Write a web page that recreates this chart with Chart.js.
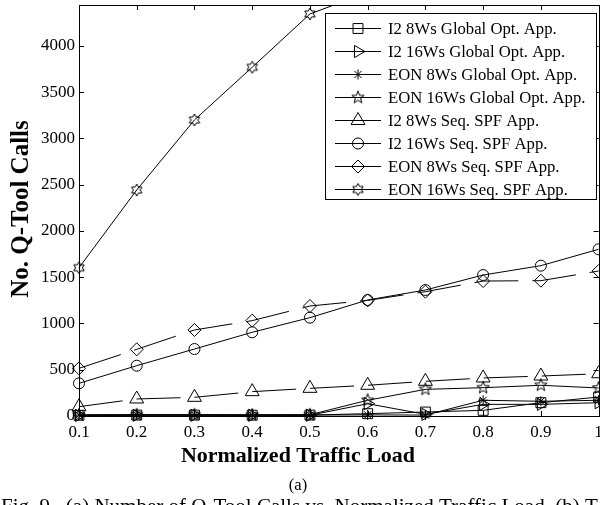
<!DOCTYPE html>
<html><head><meta charset="utf-8">
<script src="https://cdn.jsdelivr.net/npm/chart.js@4/dist/chart.umd.min.js"></script>
<style>
html,body{margin:0;padding:0;background:#fff;overflow:hidden;width:600px;height:505px}
#wrap{position:absolute;left:0;top:0;width:620px;height:505px}
canvas{display:block}
</style></head>
<body><div id="wrap"><canvas id="c" width="620" height="505"></canvas></div>
<script>
// ---- data ----
const loads = [0.1, 0.2, 0.3, 0.4, 0.5, 0.6, 0.7, 0.8, 0.9, 1.0];
const xTickValues = [0.1, 0.2, 0.3, 0.4, 0.5, 0.6, 0.7, 0.8, 0.9, 1.0];
const yTickValues = [0, 500, 1000, 1500, 2000, 2500, 3000, 3500, 4000];
const seriesNames = [
  "I2 8Ws Global Opt. App.",
  "I2 16Ws Global Opt. App.",
  "EON 8Ws Global Opt. App.",
  "EON 16Ws Global Opt. App.",
  "I2 8Ws Seq. SPF App.",
  "I2 16Ws Seq. SPF App.",
  "EON 8Ws Seq. SPF App.",
  "EON 16Ws Seq. SPF App."
];
const i2_8_global   = [8, 10, 10, 9, 10, 25, 43, 61, 144, 205];
const i2_16_global  = [6, 8, 8, 8, 8, 133, 18, 126, 126, 144];
const eon_8_global  = [10, 12, 12, 10, 10, 12, 10, 170, 159, 170];
const eon_16_global = [12, 14, 14, 12, 14, 170, 288, 306, 332, 303];
const i2_8_seq      = [101, 184, 202, 263, 299, 332, 375, 411, 432, 457];
const i2_16_seq     = [353, 544, 724, 905, 1063, 1254, 1362, 1524, 1625, 1802];
const eon_8_seq     = [515, 721, 930, 1031, 1189, 1250, 1344, 1459, 1463, 1567];
const eon_16_seq    = [1603, 2443, 3200, 3770, 4346, 4580, 4900, 5200, 5500, 5800];

// ---- custom marker images ----
function starCanvas(points, rOut, rIn) {
  const s = 16, c = document.createElement('canvas');
  c.width = s; c.height = s;
  const g = c.getContext('2d');
  g.strokeStyle = '#000'; g.lineWidth = 1;
  g.beginPath();
  for (let i = 0; i < points * 2; i++) {
    const r = i % 2 === 0 ? rOut : rIn;
    const a = -Math.PI / 2 + i * Math.PI / points;
    const x = s / 2 + r * Math.cos(a), y = s / 2 + r * Math.sin(a);
    if (i === 0) g.moveTo(x, y); else g.lineTo(x, y);
  }
  g.closePath(); g.stroke();
  return c;
}
const pentagram = starCanvas(5, 6.5, 2.7);
const hexagram = starCanvas(6, 6, 3.4);

const styles = [
  {pointStyle: 'rect', radius: 7, rotation: 0, dash: []},
  {pointStyle: 'triangle', radius: 7, rotation: 90, dash: []},
  {pointStyle: 'star', radius: 5, rotation: 0, dash: []},
  {pointStyle: pentagram, radius: 6, rotation: 0, dash: []},
  {pointStyle: 'triangle', radius: 8, rotation: 0, dash: [44, 14]},
  {pointStyle: 'circle', radius: 5.5, rotation: 0, dash: []},
  {pointStyle: 'rectRot', radius: 6.5, rotation: 0, dash: [44, 14]},
  {pointStyle: hexagram, radius: 6, rotation: 0, dash: []}
];
const allSeries = [i2_8_global, i2_16_global, eon_8_global, eon_16_global, i2_8_seq, i2_16_seq, eon_8_seq, eon_16_seq];

const datasets = allSeries.map((vals, i) => ({
  label: seriesNames[i],
  data: loads.map((x, k) => ({x: x, y: vals[k]})),
  borderColor: '#000',
  borderWidth: 1,
  borderDash: styles[i].dash,
  backgroundColor: 'rgba(0,0,0,0)',
  pointStyle: styles[i].pointStyle,
  pointRadius: styles[i].radius,
  pointRotation: styles[i].rotation,
  pointBorderColor: '#000',
  pointBackgroundColor: 'rgba(0,0,0,0)',
  pointBorderWidth: 1,
  tension: 0,
  fill: false,
  clip: {left: 12, right: 12, top: 0, bottom: 12}
}));

const SERIF = '"Liberation Serif", "Times New Roman", serif';

const framePlugin = {
  id: 'frame',
  beforeDatasetsDraw(chart) {
    const {ctx, chartArea: a, scales} = chart;
    ctx.save();
    ctx.strokeStyle = '#000';
    ctx.lineWidth = 1;
    ctx.strokeRect(Math.round(a.left) + 0.5, Math.round(a.top) + 0.5,
                   Math.round(a.right - a.left), Math.round(a.bottom - a.top));
    const tl = 5;
    ctx.beginPath();
    scales.x.ticks.forEach((t, i) => {
      const px = Math.round(scales.x.getPixelForTick(i)) + 0.5;
      ctx.moveTo(px, a.bottom); ctx.lineTo(px, a.bottom - tl);
      ctx.moveTo(px, a.top); ctx.lineTo(px, a.top + tl);
    });
    scales.y.ticks.forEach((t, i) => {
      const py = Math.round(scales.y.getPixelForTick(i)) + 0.5;
      ctx.moveTo(a.left, py); ctx.lineTo(a.left + tl, py);
      ctx.moveTo(a.right, py); ctx.lineTo(a.right - tl, py);
    });
    ctx.stroke();
    ctx.restore();
  },
  afterDraw(chart) {
    const {ctx} = chart;
    ctx.save();
    // legend
    const L = {left: 325, top: 13, right: 596, bottom: 199, row0: 28, step: 23};
    ctx.fillStyle = '#fff';
    ctx.fillRect(L.left, L.top, L.right - L.left, L.bottom - L.top);
    ctx.strokeStyle = '#000';
    ctx.lineWidth = 1;
    ctx.strokeRect(L.left + 0.5, L.top + 0.5, L.right - L.left, L.bottom - L.top);
    chart.data.datasets.forEach((ds, i) => {
      const y = L.row0 + i * L.step;
      ctx.beginPath();
      ctx.setLineDash([]);
      ctx.moveTo(335, Math.round(y) + 0.5); ctx.lineTo(381, Math.round(y) + 0.5);
      ctx.stroke();
      ctx.fillStyle = 'rgba(0,0,0,0)';
      Chart.helpers.drawPoint(ctx, {
        pointStyle: ds.pointStyle, radius: ds.pointRadius,
        rotation: ds.pointRotation, borderWidth: 1
      }, 358, y + 0.5);
      ctx.fillStyle = '#000';
      ctx.font = '16.7px ' + SERIF;
      ctx.textAlign = 'left';
      ctx.textBaseline = 'alphabetic';
      ctx.fillText(ds.label, 388, y + 5.5);
    });
    // axis titles
    ctx.fillStyle = '#000';
    ctx.font = 'bold 22px ' + SERIF;
    ctx.textAlign = 'center';
    ctx.fillText('Normalized Traffic Load', 298, 462);
    ctx.font = '16.5px ' + SERIF;
    ctx.fillText('(a)', 298, 490);
    ctx.save();
    ctx.translate(28, 209);
    ctx.rotate(-Math.PI / 2);
    ctx.font = 'bold 25px ' + SERIF;
    ctx.fillText('No. Q-Tool Calls', 0, 0);
    ctx.restore();
    const cap = 'Fig. 9.  (a) Number of Q-Tool Calls vs. Normalized Traffic Load, (b) T';
    ctx.font = '16px ' + SERIF;
    const w16 = ctx.measureText(cap).width;
    ctx.font = (16 * 597 / w16).toFixed(2) + 'px ' + SERIF;
    ctx.textAlign = 'left';
    ctx.fillText(cap, 1, 513);
    ctx.restore();
  }
};

new Chart(document.getElementById('c'), {
  type: 'line',
  data: {datasets: datasets},
  options: {
    responsive: false,
    animation: false,
    devicePixelRatio: 1,
    layout: {autoPadding: false, padding: {left: 0, right: 21.4, top: 5, bottom: 59}},
    plugins: {legend: {display: false}, tooltip: {enabled: false}},
    scales: {
      x: {
        type: 'linear', min: 0.1, max: 1.0,
        afterBuildTicks: s => { s.ticks = xTickValues.map(v => ({value: v})); },
        afterFit: s => { s.height = 30; s.paddingLeft = 0; s.paddingRight = 0; s.paddingTop = 0; s.paddingBottom = 0; },
        grid: {display: false, drawTicks: false},
        border: {display: false},
        ticks: {
          color: '#000', padding: 6, maxRotation: 0, autoSkip: false,
          font: {family: SERIF, size: 17},
          callback: v => String(Math.round(v * 10) / 10)
        }
      },
      y: {
        type: 'linear', min: 0, max: 4443,
        afterBuildTicks: s => { s.ticks = yTickValues.map(v => ({value: v})); },
        afterFit: s => { s.width = 79; s.paddingTop = 0; s.paddingBottom = 0; s.paddingLeft = 0; s.paddingRight = 0; },
        grid: {display: false, drawTicks: false},
        border: {display: false},
        ticks: {color: '#000', padding: 4, font: {family: SERIF, size: 17},
                callback: v => String(v)}
      }
    }
  },
  plugins: [framePlugin]
});
</script>
</body></html>
